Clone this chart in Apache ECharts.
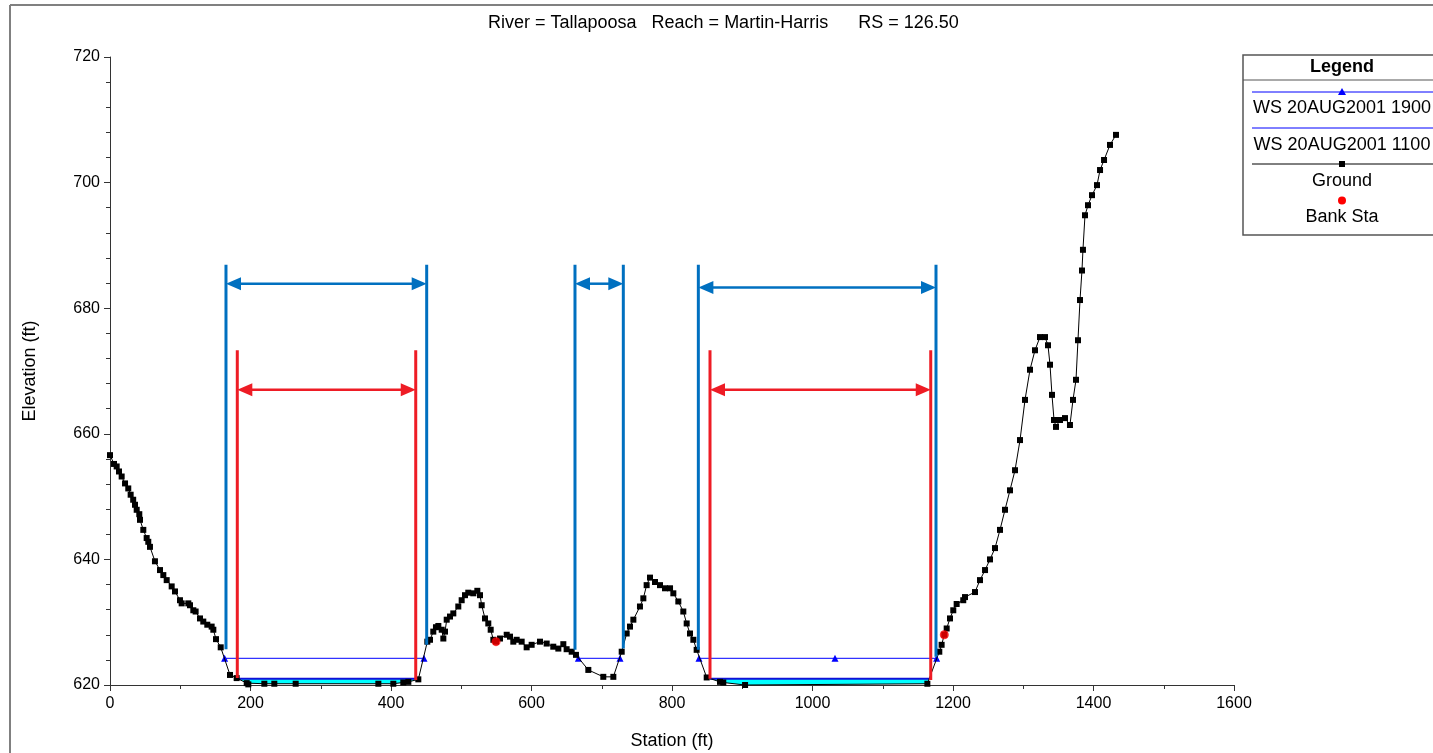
<!DOCTYPE html>
<html>
<head>
<meta charset="utf-8">
<title>Tallapoosa RS 126.50</title>
<script src="https://cdn.jsdelivr.net/npm/echarts@6/dist/echarts.min.js"></script>
<style>
  html, body { margin: 0; padding: 0; background: #ffffff; }
  #chart { width: 1433px; height: 753px; }
</style>
</head>
<body>
<div id="chart"></div>
<script>
// Ground profile: [station (ft), elevation (ft)]
const groundPoints = [
  [0, 656.6], [5.7, 655.2], [9.5, 654.8], [12.8, 654.0], [16.6, 653.2], [21.4, 652.1], [26, 651.3],
  [29.4, 650.3], [33, 649.5], [35.6, 648.7], [38, 647.9], [41.7, 647.2], [42.7, 646.3], [47.4, 644.7],
  [52.2, 643.4], [54.5, 642.8], [56.9, 642.0], [64, 639.7], [71.2, 638.3], [75.9, 637.5], [80.7, 636.7],
  [87.8, 635.7], [92.5, 634.9], [99.6, 633.5], [102, 633.0], [111.5, 633.0], [113.9, 632.7], [118.6, 631.9],
  [121.9, 631.7], [128.1, 630.6], [132.8, 630.1], [138.5, 629.6], [144.7, 629.3], [147.1, 628.8],
  [150.9, 627.3], [157.6, 626.0], [170.8, 621.6], [180.3, 621.1], [194.6, 620.3], [196.9, 620.1],
  [219.7, 620.2], [233.9, 620.2], [264.3, 620.2], [382, 620.2], [403.3, 620.2], [417.5, 620.4],
  [424.7, 620.5], [438.9, 620.9], [451.7, 626.9], [455.5, 627.2], [460.2, 628.5], [464, 629.2],
  [467.4, 629.4], [472.2, 628.8], [474.5, 627.4], [476.9, 628.5], [479.3, 630.4], [484, 630.9],
  [488.7, 631.4], [495.8, 632.5], [500.6, 633.5], [505.3, 634.3], [510, 634.7], [517.2, 634.6],
  [522.9, 635.0], [526.7, 634.3], [529.1, 632.7], [533.8, 630.6], [538.5, 629.8], [541.9, 628.8],
  [545.7, 627.2], [549.5, 626.9], [555.2, 627.4], [564.7, 628.0], [569.4, 627.7], [574.1, 626.9],
  [578.9, 627.2], [586, 626.9], [593.1, 626.0], [600.2, 626.4], [612.1, 626.9], [621.6, 626.6],
  [631, 626.1], [638.2, 625.8], [645.3, 626.5], [650, 625.7], [657.2, 625.3], [663.3, 624.8],
  [680.9, 622.4], [702.2, 621.3], [716.5, 621.3], [728.4, 625.3], [735.5, 628.2], [740.2, 629.3],
  [745, 630.4], [754.4, 632.5], [759.2, 633.8], [763.9, 635.9], [768.7, 637.1], [775.8, 636.4],
  [782.9, 635.9], [790, 635.4], [797.2, 635.4], [801.9, 634.6], [809, 633.3], [816.1, 631.7],
  [820.9, 629.8], [825.6, 628.2], [830.4, 627.2], [835.1, 625.6], [849.4, 621.2], [868.3, 620.5],
  [873, 620.4], [904, 620.0], [1163.5, 620.2], [1180.5, 625.3], [1183.8, 626.4], [1187.6, 628.0],
  [1191, 629.0], [1195.7, 630.6], [1200.4, 631.9], [1205.2, 632.9], [1214.6, 633.5], [1217.1, 634.0],
  [1231.3, 634.8], [1238.4, 636.7], [1245.6, 638.3], [1252.7, 640.0], [1259.8, 641.8], [1266.9, 644.7],
  [1274, 647.9], [1281.1, 651.0], [1288.3, 654.2], [1295.4, 659.0], [1302.5, 665.4], [1309.6, 670.2],
  [1316.7, 673.3], [1323.8, 675.4], [1331, 675.4], [1335.2, 674.1], [1338.1, 671.0], [1340.9, 666.2],
  [1343.8, 662.2], [1346.6, 661.1], [1352.3, 662.2], [1359.4, 662.5], [1366.5, 661.4], [1370.8, 665.4],
  [1375.1, 668.6], [1377.9, 674.9], [1380.8, 681.3], [1383.6, 686.0], [1385, 689.3], [1387.9, 694.8],
  [1392.2, 696.4], [1397.9, 698.0], [1405, 699.6], [1409.3, 702.0], [1415, 703.6], [1423.5, 706.0],
  [1432, 707.6]
];

// Bank stations on the ground profile
const bankStations = [[549.5, 626.9], [1187.6, 628.0]];

// Water surface WS 20AUG2001 1900 (wetted segments)
const ws1900Elev = 624.25;
const ws1900Stations = [[163.2, 447], [666.7, 726], [838.4, 1032, 1176.7]];

// Water surface WS 20AUG2001 1100 (two pools)
const ws1100Elev = 621.0;
const ws1100Pools = [[182, 439], [854, 1166]];

// Bracket annotations: verticals [station, bottom elev, top elev], arrows [from, to, elev]
const blueVerticals = [
  [165.1, 625.7, 686.9], [450.8, 626.4, 686.9], [661.9, 625.6, 686.9],
  [730.7, 625.8, 686.9], [837.5, 625.6, 686.9], [1175.8, 624.5, 686.9]
];
const blueArrows = [[165.1, 450.8, 683.9], [661.9, 730.7, 683.9], [837.5, 1175.8, 683.3]];
const redVerticals = [
  [181.2, 621.1, 673.3], [435.2, 620.8, 673.3], [854.1, 621.0, 673.3], [1168.3, 620.8, 673.3]
];
const redArrows = [[181.2, 435.2, 667.0], [854.1, 1168.3, 667.0]];

// Axis ticks
const xTicks = { min: 0, max: 1600, step: 200 };
const yTicks = { min: 620, max: 720, step: 20 };

const FONT = 'Liberation Sans, Arial, sans-serif';
const BLUE_WS = '#0000ff';
const BRACKET_BLUE = '#0070c0';
const BRACKET_RED = '#ee1c25';

function poolFill(range) {
  const [a, b] = range;
  const inner = groundPoints.filter(p => p[0] > a && p[0] < b);
  return [[a, ws1100Elev]].concat(inner, [[b, ws1100Elev]]);
}

// Vertical bracket lines drawn through the axes' scales
function verticalSeries(rows, color) {
  return {
    type: 'custom',
    data: rows,
    encode: { x: 0, y: [1, 2] },
    silent: true,
    z: 10,
    renderItem: function (params, api) {
      const b = api.coord([api.value(0), api.value(1)]);
      const t = api.coord([api.value(0), api.value(2)]);
      return {
        type: 'line',
        shape: { x1: b[0], y1: b[1], x2: t[0], y2: t[1] },
        style: { stroke: color, lineWidth: 3 }
      };
    }
  };
}

// Double-headed horizontal arrows, tips landing on the bracket lines
function arrowSeries(rows, color) {
  const HL = 15, HW = 13;
  return {
    type: 'custom',
    data: rows,
    encode: { x: [0, 1], y: 2 },
    silent: true,
    z: 11,
    renderItem: function (params, api) {
      const p1 = api.coord([api.value(0), api.value(2)]);
      const p2 = api.coord([api.value(1), api.value(2)]);
      const y = p1[1];
      return {
        type: 'group',
        children: [
          { type: 'line', shape: { x1: p1[0] + HL - 1, y1: y, x2: p2[0] - HL + 1, y2: y }, style: { stroke: color, lineWidth: 2.5 } },
          { type: 'polygon', shape: { points: [[p1[0], y], [p1[0] + HL, y - HW / 2], [p1[0] + HL, y + HW / 2]] }, style: { fill: color } },
          { type: 'polygon', shape: { points: [[p2[0], y], [p2[0] - HL, y - HW / 2], [p2[0] - HL, y + HW / 2]] }, style: { fill: color } }
        ]
      };
    }
  };
}

const series = [];

// Cyan pools of WS 1100 between the surface and the ground
ws1100Pools.forEach(range => {
  series.push({
    type: 'line',
    data: poolFill(range),
    showSymbol: false,
    silent: true,
    z: 1,
    lineStyle: { width: 0, opacity: 0 },
    areaStyle: { color: '#00ffff', opacity: 1, origin: ws1100Elev }
  });
  series.push({
    name: 'WS 20AUG2001 1100',
    type: 'line',
    data: [[range[0], ws1100Elev], [range[1], ws1100Elev]],
    showSymbol: false,
    silent: true,
    z: 2,
    lineStyle: { color: '#1010d8', width: 2 }
  });
});

// WS 1900 segments
ws1900Stations.forEach(seg => {
  series.push({
    name: 'WS 20AUG2001 1900',
    type: 'line',
    data: seg.map(s => [s, ws1900Elev]),
    symbol: 'triangle',
    symbolSize: 7,
    showAllSymbol: true,
    silent: true,
    z: 3,
    itemStyle: { color: BLUE_WS },
    lineStyle: { color: BLUE_WS, width: 1 }
  });
});

// Ground
series.push({
  name: 'Ground',
  type: 'line',
  data: groundPoints,
  symbol: 'rect',
  symbolSize: 6,
  showAllSymbol: true,
  silent: true,
  z: 4,
  itemStyle: { color: '#000000' },
  lineStyle: { color: '#000000', width: 1 }
});

// Bank stations
series.push({
  name: 'Bank Sta',
  type: 'scatter',
  data: bankStations,
  symbol: 'circle',
  symbolSize: 9,
  silent: true,
  z: 5,
  itemStyle: { color: '#ff0000' }
});

series.push(verticalSeries(blueVerticals, BRACKET_BLUE));
series.push(arrowSeries(blueArrows, BRACKET_BLUE));
series.push(verticalSeries(redVerticals, BRACKET_RED));
series.push(arrowSeries(redArrows, BRACKET_RED));

// Legend panel
const LX = 1243, LY = 55, LW = 200, LH = 180;
const LC = 1342;
const legendGraphics = [
  { type: 'rect', shape: { x: LX, y: LY, width: LW, height: LH }, style: { fill: '#ffffff', stroke: '#555555', lineWidth: 1.5 }, z: 100 },
  { type: 'text', x: LC, y: 67, style: { text: 'Legend', font: 'bold 18px ' + FONT, fill: '#000', align: 'center', verticalAlign: 'middle' }, z: 101 },
  { type: 'line', shape: { x1: LX, y1: 80, x2: LX + LW, y2: 80 }, style: { stroke: '#555555', lineWidth: 1 }, z: 101 },
  { type: 'line', shape: { x1: 1252, y1: 92, x2: 1440, y2: 92 }, style: { stroke: BLUE_WS, lineWidth: 1 }, z: 101 },
  { type: 'polygon', shape: { points: [[LC, 88], [LC - 4, 95], [LC + 4, 95]] }, style: { fill: BLUE_WS }, z: 102 },
  { type: 'text', x: LC, y: 108, style: { text: 'WS 20AUG2001 1900', font: '18px ' + FONT, fill: '#000', align: 'center', verticalAlign: 'middle' }, z: 101 },
  { type: 'line', shape: { x1: 1252, y1: 128, x2: 1440, y2: 128 }, style: { stroke: BLUE_WS, lineWidth: 1 }, z: 101 },
  { type: 'text', x: LC, y: 145, style: { text: 'WS 20AUG2001 1100', font: '18px ' + FONT, fill: '#000', align: 'center', verticalAlign: 'middle' }, z: 101 },
  { type: 'line', shape: { x1: 1252, y1: 164, x2: 1440, y2: 164 }, style: { stroke: '#000000', lineWidth: 1 }, z: 101 },
  { type: 'rect', shape: { x: LC - 3, y: 161, width: 6, height: 6 }, style: { fill: '#000000' }, z: 102 },
  { type: 'text', x: LC, y: 181, style: { text: 'Ground', font: '18px ' + FONT, fill: '#000', align: 'center', verticalAlign: 'middle' }, z: 101 },
  { type: 'circle', shape: { cx: LC, cy: 200.5, r: 4 }, style: { fill: '#ff0000' }, z: 102 },
  { type: 'text', x: LC, y: 217, style: { text: 'Bank Sta', font: '18px ' + FONT, fill: '#000', align: 'center', verticalAlign: 'middle' }, z: 101 }
];

// Outer frame
const frameGraphics = [
  { type: 'line', shape: { x1: 10, y1: 5, x2: 1433, y2: 5 }, style: { stroke: '#808080', lineWidth: 2 }, z: 100 },
  { type: 'line', shape: { x1: 10, y1: 5, x2: 10, y2: 753 }, style: { stroke: '#808080', lineWidth: 2 }, z: 100 }
];

const chart = echarts.init(document.getElementById('chart'), null, { renderer: 'canvas' });
chart.setOption({
  animation: false,
  backgroundColor: '#ffffff',
  textStyle: { fontFamily: FONT },
  title: {
    text: 'River = Tallapoosa   Reach = Martin-Harris      RS = 126.50',
    left: 483,
    top: 9,
    textStyle: { fontFamily: FONT, fontSize: 18, fontWeight: 'normal', color: '#000' }
  },
  grid: { left: 110, right: 199, top: 57, bottom: 68, containLabel: false, outerBoundsMode: 'none' },
  xAxis: {
    type: 'value',
    min: xTicks.min,
    max: xTicks.max,
    interval: xTicks.step,
    name: 'Station (ft)',
    nameLocation: 'middle',
    nameGap: 47,
    nameTextStyle: { fontFamily: FONT, fontSize: 18, color: '#000' },
    axisLine: { show: true, onZero: false, lineStyle: { color: '#333', width: 1 } },
    axisTick: { show: true, inside: false, length: 6, lineStyle: { color: '#333' } },
    minorTick: { show: true, splitNumber: 2, length: 4, lineStyle: { color: '#333' } },
    axisLabel: { fontFamily: FONT, fontSize: 16, color: '#000', margin: 11, formatter: v => String(v) },
    splitLine: { show: false }
  },
  yAxis: {
    type: 'value',
    min: yTicks.min,
    max: yTicks.max,
    interval: yTicks.step,
    name: 'Elevation (ft)',
    nameLocation: 'middle',
    nameGap: 71,
    nameRotate: 90,
    nameTextStyle: { fontFamily: FONT, fontSize: 18, color: '#000' },
    axisLine: { show: true, onZero: false, lineStyle: { color: '#333', width: 1 } },
    axisTick: { show: true, inside: false, length: 6, lineStyle: { color: '#333' } },
    minorTick: { show: true, splitNumber: 5, length: 4, lineStyle: { color: '#333' } },
    axisLabel: { fontFamily: FONT, fontSize: 16, color: '#000', margin: 10, formatter: v => String(v) },
    splitLine: { show: false }
  },
  series: series,
  graphic: frameGraphics.concat(legendGraphics)
});
</script>
</body>
</html>
